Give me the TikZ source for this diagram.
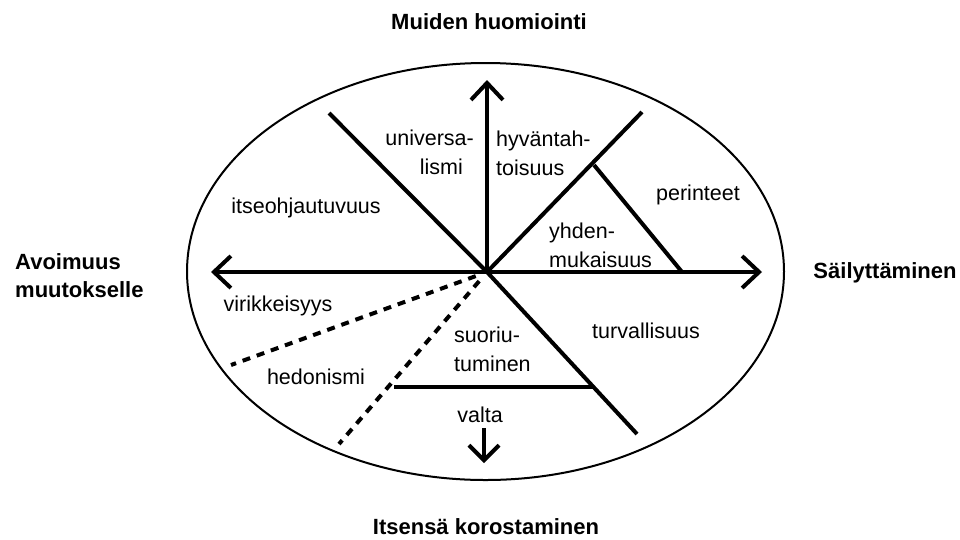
\documentclass[tikz,border=0pt]{standalone}
\usepackage{fontspec}
\setmainfont{Liberation Sans}
\usetikzlibrary{arrows.meta}

\tikzset{
  arvo/.style={font=\fontsize{21.5}{29}\selectfont, inner sep=0pt},
  akseli/.style={font=\bfseries\fontsize{22}{28}\selectfont, inner sep=0pt},
  jako/.style={line width=4pt},
  katko/.style={line width=4pt, dash pattern=on 8pt off 7pt, shorten <=12pt},
}

\begin{document}
\begin{tikzpicture}[>={Straight Barb[length=17pt,width=32pt]}, x=1pt, y=-1pt]
\useasboundingbox (0,0) rectangle (960,539);

% the circle of values
\draw[line width=2pt] (485.5,271.5) ellipse [x radius=298.5pt, y radius=208.5pt];

\coordinate (o) at (487,272);
\coordinate (n) at (487,80);
\coordinate (w) at (211,272);
\coordinate (e) at (762,272);
\coordinate (nw) at (329,113);
\coordinate (ne) at (642,112);
\coordinate (se) at (637,434);
\coordinate (yh) at (594,165);
\coordinate (yhe) at (682,272);
\coordinate (va) at (394,387);
\coordinate (vae) at (593,387);
\coordinate (hd) at (231,365);
\coordinate (sd) at (339,444);
\coordinate (dn) at (484,428);
\coordinate (ds) at (484,463);

\draw[jako,->] (o) -- (n);
\draw[jako,->] (o) -- (w);
\draw[jako,->] (o) -- (e);
\draw[jako] (o) -- (nw);
\draw[jako] (o) -- (ne);
\draw[jako] (o) -- (se);
\draw[jako] (yh) -- (yhe);
\draw[jako] (va) -- (vae);
\draw[katko] (o) -- (hd);
\draw[katko] (o) -- (sd);
\draw[jako,->,>={Straight Barb[length=15pt,width=30pt]}] (dn) -- (ds);

% dimensions
\node[akseli] (muiden) at (489,22) {Muiden huomiointi};
\node[akseli, align=left, anchor=west] (avoim) at (15,276) {Avoimuus\\muutokselle};
\node[akseli] (sail) at (885,273) {Säilyttäminen};
\node[akseli] (itsens) at (486,527) {Itsensä korostaminen};

% values
\node[arvo, align=right, anchor=east] (univ) at (474,152) {universa-\\lismi\hspace*{11pt}};
\node[arvo, align=left, anchor=west] (hyv) at (496,153) {hyväntah-\\toisuus};
\node[arvo] (itse) at (306,208) {itseohjautuvuus};
\node[arvo] (peri) at (698,195) {perinteet};
\node[arvo, align=left, anchor=west] (yhd) at (549,245) {yhden-\\mukaisuus};
\node[arvo] (viri) at (278,306) {virikkeisyys};
\node[arvo] (turv) at (646,331) {turvallisuus};
\node[arvo, align=left, anchor=west] (suor) at (454,349) {suoriu-\\tuminen};
\node[arvo] (hedo) at (316,377) {hedonismi};
\node[arvo] (valta) at (480,415) {valta};
\end{tikzpicture}
\end{document}
